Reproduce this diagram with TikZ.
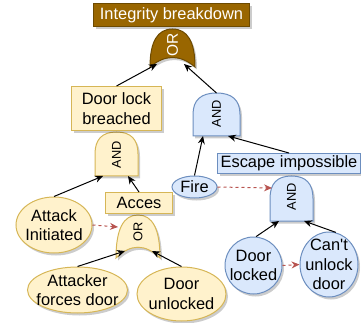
\documentclass[tikz,border=0pt]{standalone}
\usepackage{fontspec}
\setmainfont{Liberation Sans}
\usetikzlibrary{shapes.geometric,arrows.meta,shadows}

\definecolor{brownfill}{HTML}{996600}
\definecolor{brownline}{HTML}{6D4A00}
\definecolor{yfill}{HTML}{FFF2CC}
\definecolor{yline}{HTML}{D6B656}
\definecolor{bfill}{HTML}{DAE8FC}
\definecolor{bline}{HTML}{6C8EBF}
\definecolor{redline}{HTML}{B85450}

\tikzset{
  softshadow/.style={drop shadow={shadow xshift=2pt, shadow yshift=-2.5pt, fill=black, opacity=0.2}},
  txt/.style={font=\fontsize{16.4}{19.6}\selectfont, align=center, inner sep=0pt},
  gatelabel/.style={font=\fontsize{12.8}{14}\selectfont, inner sep=0pt, rotate=90},
  brownbox/.style={rectangle, txt, text=white, draw=brownline, fill=brownfill, line width=1pt, softshadow},
  ybox/.style={rectangle, txt, draw=yline, fill=yfill, line width=1pt, softshadow},
  bluebox/.style={rectangle, txt, draw=bline, fill=bfill, line width=1pt, softshadow},
  yell/.style={ellipse, inner sep=0pt, draw=yline, fill=yfill, line width=1pt, softshadow},
  blueell/.style={ellipse, inner sep=0pt, draw=bline, fill=bfill, line width=1pt, softshadow},
  browngate/.style={draw=brownline, fill=brownfill, line width=1pt, softshadow},
  ygate/.style={draw=yline, fill=yfill, line width=1pt, softshadow},
  bluegate/.style={draw=bline, fill=bfill, line width=1pt, softshadow},
  link/.style={-{Stealth[length=8pt,width=7pt]}, line width=1pt, black},
  weak/.style={-{Stealth[length=8pt,width=7pt]}, line width=1pt, redline, dash pattern=on 3pt off 3pt},
}

% AND gate: #1 name, #2 left x, #3 bottom y, #4 width, #5 height, #6 style, #7 label, #8 label y
\newcommand\andgate[8]{%
  \path[#6] (#2,#3) -- (#2,#3-#5/2)
    .. controls (#2,#3-5*#5/6) and (#2+#4/6,#3-#5) .. (#2+#4/2,#3-#5)
    .. controls (#2+5*#4/6,#3-#5) and (#2+#4,#3-5*#5/6) .. (#2+#4,#3-#5/2)
    -- (#2+#4,#3) -- cycle;
  \node[gatelabel] (#1) at (#2+#4/2,#8) {#7};
  \coordinate (#1-top) at (#2+#4/2,#3-#5);
}
% OR gate with concave base, same arguments
\newcommand\orgate[8]{%
  \path[#6] (#2,#3)
    .. controls (#2,#3-2*#5/3) and (#2+#4/6,#3-#5) .. (#2+#4/2,#3-#5)
    .. controls (#2+5*#4/6,#3-#5) and (#2+#4,#3-2*#5/3) .. (#2+#4,#3)
    .. controls (#2+2*#4/3,#3-#5/3) and (#2+#4/3,#3-#5/3) .. (#2,#3) -- cycle;
  \node[gatelabel] (#1) at (#2+#4/2,#8) {#7};
  \coordinate (#1-top) at (#2+#4/2,#3-#5);
}

\begin{document}
\begin{tikzpicture}[x=1pt,y=-1pt]
\useasboundingbox (0,0) rectangle (361,323);

% gates
\orgate{orTop}{150}{67}{45}{38}{browngate}{\fontsize{15.5}{17}\selectfont\color{white}OR}{45}
\andgate{andY}{95}{176}{43}{44}{ygate}{AND}{154.5}
\andgate{andB}{193}{136}{47}{43}{bluegate}{AND}{114}
\orgate{orY}{116}{258}{44}{43}{ygate}{OR}{232}
\andgate{andE}{270}{221}{43}{45}{bluegate}{AND}{197}

% events
\node[brownbox, minimum width=156, minimum height=23, anchor=north west] (goal) at (93,3) {Integrity breakdown};
\node[ybox, minimum width=90, minimum height=44, anchor=north west] (dlb) at (71,86) {Door lock\\breached};
\node[ybox, minimum width=67, minimum height=21, anchor=north west] (acces) at (105,192) {Acces};
\node[bluebox, minimum width=143, minimum height=20, anchor=north west] (escape) at (217,153) {Escape impossible};

\node[yell, minimum width=76, minimum height=56, label={[txt]center:Attack\\Initiated}] (attack) at (54,225) {};
\node[yell, minimum width=100, minimum height=46, label={[txt]center:Attacker\\forces door}] (forces) at (77.5,290) {};
\node[yell, minimum width=89, minimum height=54, label={[txt]center:Door\\unlocked}] (unlocked) at (181.5,294) {};
\node[blueell, minimum width=45, minimum height=22, label={[txt]center:Fire}] (fire) at (194.5,187) {};
\node[blueell, minimum width=57, minimum height=57, label={[txt]center:Door\\locked}] (locked) at (253.5,265.5) {};
\node[blueell, minimum width=58, minimum height=65, label={[txt]center:Can\textquotesingle t\\unlock\\door}] (cant) at (329,264.5) {};

% gate inputs
\coordinate (orTop-l) at (157,64);
\coordinate (orTop-r) at (184,64);
\coordinate (andY-l) at (103,176);
\coordinate (andY-r) at (128,176);
\coordinate (andB-l) at (203,136);
\coordinate (andB-r) at (228,136);
\coordinate (orY-l) at (125,251);
\coordinate (orY-r) at (152,251);
\coordinate (orY-w) at (118,227);
\coordinate (andE-l) at (279,221);
\coordinate (andE-r) at (304,221);
\coordinate (andE-w) at (272,188);

% connectors
\draw[link] (dlb.north) -- (orTop-l);
\draw[link] (andB-top) -- (orTop-r);
\draw[link] (attack.north) -- (andY-l);
\draw[link] (acces.north) -- (andY-r);
\draw[link] (fire.north) -- (andB-l);
\draw[link] (escape.north) -- (andB-r);
\draw[link] (forces.north) -- (orY-l);
\draw[link] (unlocked.north) -- (orY-r);
\draw[link] (locked.85) -- (andE-l);
\draw[link] (cant.78) -- (andE-r);
\draw[weak] (attack.east) -- (orY-w);
\draw[weak] (fire.east) -- (andE-w);
\draw[weak] (locked.east) -- (cant.west);
\end{tikzpicture}
\end{document}
